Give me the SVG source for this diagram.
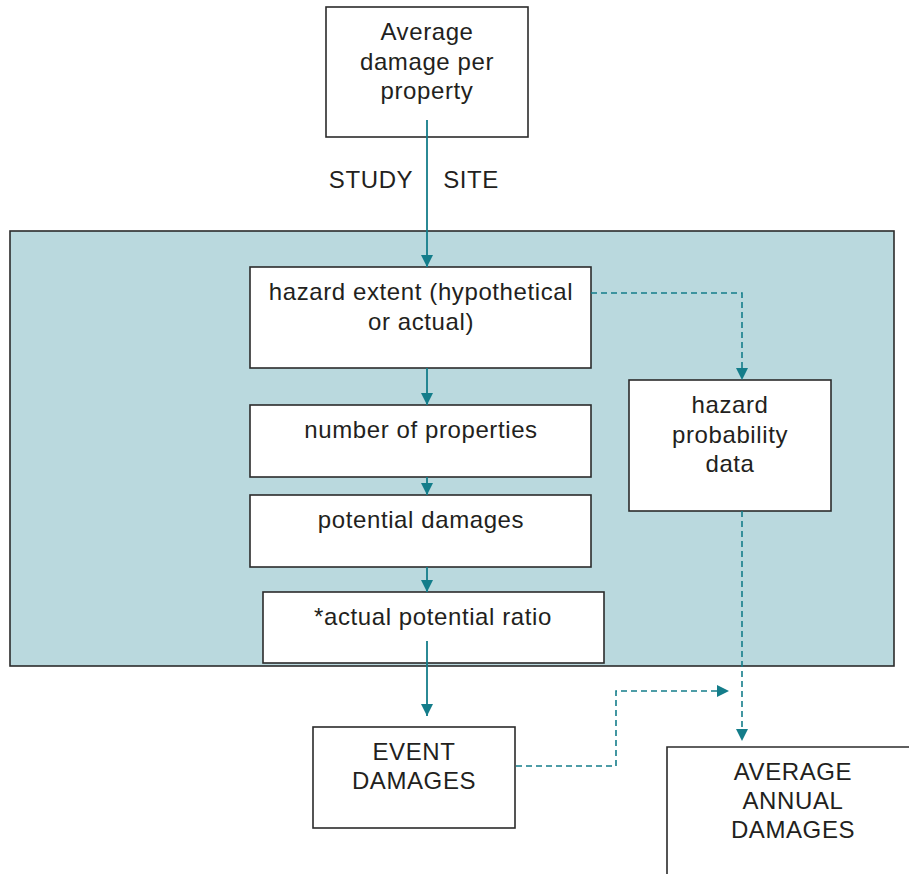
<svg xmlns="http://www.w3.org/2000/svg" width="909" height="874" viewBox="0 0 909 874">
<style>
.box{fill:#fff;stroke:#2b2b2b;stroke-width:1.6}
.t{font-family:"Liberation Sans",Arial,sans-serif;font-size:24px;letter-spacing:0.6px;fill:#231f20;text-anchor:middle}
.c{fill:none;stroke:#147d8a;stroke-width:1.8}
.d{fill:none;stroke:#147d8a;stroke-width:1.6;stroke-dasharray:6 4}
</style>
<defs>
<marker id="ah" viewBox="0 0 12 12" refX="12" refY="6" markerWidth="12" markerHeight="12" markerUnits="userSpaceOnUse" orient="auto">
<path d="M0,0 L12,6 L0,12 Z" fill="#147d8a"/>
</marker>
</defs>
<rect id="panel" x="10" y="231" width="884" height="435" fill="#bad9de" stroke="#2b2b2b" stroke-width="1.6"/>
<g id="n-avg-damage">
<rect class="box" x="326" y="7" width="202" height="130"/>
<text class="t" x="427" y="40">Average</text>
<text class="t" x="427" y="70">damage per</text>
<text class="t" x="427" y="99">property</text>
</g>
<g id="labels">
<text class="t" x="371" y="188">STUDY</text>
<text class="t" x="471" y="188">SITE</text>
</g>
<g id="n-hazard-extent">
<rect class="box" x="250" y="267" width="341" height="101"/>
<text class="t" x="421" y="300">hazard extent (hypothetical</text>
<text class="t" x="421" y="330">or actual)</text>
</g>
<g id="n-number">
<rect class="box" x="250" y="405" width="341" height="72"/>
<text class="t" x="421" y="438">number of properties</text>
</g>
<g id="n-potential">
<rect class="box" x="250" y="495" width="341" height="72"/>
<text class="t" x="421" y="528">potential damages</text>
</g>
<g id="n-ratio">
<rect class="box" x="263" y="592" width="341" height="71"/>
<text class="t" x="433" y="625">*actual potential ratio</text>
</g>
<g id="n-probability">
<rect class="box" x="629" y="380" width="202" height="131"/>
<text class="t" x="730" y="413">hazard</text>
<text class="t" x="730" y="443">probability</text>
<text class="t" x="730" y="472">data</text>
</g>
<g id="n-event">
<rect class="box" x="313" y="727" width="202" height="101"/>
<text class="t" x="414" y="760">EVENT</text>
<text class="t" x="414" y="789">DAMAGES</text>
</g>
<g id="n-aad">
<path d="M667,874 L667,747 L909,747" fill="#fff" stroke="#2b2b2b" stroke-width="1.6"/>
<text class="t" x="793" y="780">AVERAGE</text>
<text class="t" x="793" y="809">ANNUAL</text>
<text class="t" x="793" y="838">DAMAGES</text>
</g>
<g id="connectors">
<line class="c" x1="427" y1="120" x2="427" y2="267" marker-end="url(#ah)"/>
<line class="c" x1="427" y1="368" x2="427" y2="405" marker-end="url(#ah)"/>
<line class="c" x1="427" y1="477" x2="427" y2="495" marker-end="url(#ah)"/>
<line class="c" x1="427" y1="567" x2="427" y2="592" marker-end="url(#ah)"/>
<line class="c" x1="427" y1="641" x2="427" y2="716" marker-end="url(#ah)"/>
<path class="d" d="M591,293 L742,293 L742,380" marker-end="url(#ah)"/>
<path class="d" d="M742,511 L742,741" marker-end="url(#ah)"/>
<path class="d" d="M516,766 L616,766 L616,691 L729,691" marker-end="url(#ah)"/>
</g>
</svg>
